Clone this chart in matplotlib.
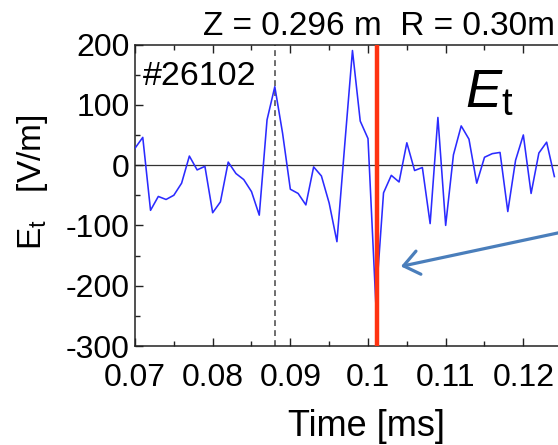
import numpy as np
import matplotlib
matplotlib.use("Agg")
import matplotlib.pyplot as plt
from matplotlib.ticker import MultipleLocator, FixedLocator, FuncFormatter

plt.rcParams['font.family'] = ['Liberation Sans', 'DejaVu Sans']
plt.rcParams['mathtext.fontset'] = 'custom'
plt.rcParams['mathtext.rm'] = 'Liberation Sans'
plt.rcParams['mathtext.it'] = 'Liberation Sans:italic'
plt.rcParams['axes.unicode_minus'] = False

# toroidal electric field, sampled every 1 us starting at 0.070 ms
t0 = 0.070
dt = 0.001
et_values = [28, 46, -75, -52, -57, -50, -30, 15, -8, -2,
             -79, -61, 5, -14, -24, -44, -83, 75, 130, 53,
             -40, -47, -66, -3, -18, -63, -127, 33, 190, 73,
             44, -228, -46, -17, -28, 37, -9, -4, -97, 79,
             -100, 17, 65, 43, -30, 13, 19, 21, -77, 8,
             50, -47, 20, 38, -19]
time = t0 + dt * np.arange(len(et_values))

event_times = [0.088, 0.101]     # dashed markers
crash_time = 0.1012              # red marker
arrow_tip = (0.10424, -168)
arrow_tail = (0.1261, -108)

xticks = [0.07, 0.08, 0.09, 0.10, 0.11, 0.12]
yticks = [-300, -200, -100, 0, 100, 200]

W, H = 558, 445
fig = plt.figure(figsize=(W / 100, H / 100), dpi=100)
ax = fig.add_axes([135 / W, 99 / H, 466 / W, 301.5 / H])

ax.axhline(0, color='#333333', lw=0.9, zorder=1)
for tx in event_times:
    ax.axvline(tx, color='#555555', lw=1.2, ls=(0, (3.5, 2.5)), zorder=2)
ax.plot(time, et_values, color='#2B2BFF', lw=1.15, zorder=3)
ax.axvline(crash_time, color='#FF3311', lw=3.2, zorder=4)

ax.set_xlim(0.07, 0.13)
ax.set_ylim(-300, 200)
ax.xaxis.set_major_locator(FixedLocator(xticks))
ax.xaxis.set_minor_locator(MultipleLocator(0.005))
ax.yaxis.set_major_locator(FixedLocator(yticks))
ax.yaxis.set_minor_locator(MultipleLocator(50))
ax.xaxis.set_major_formatter(FuncFormatter(lambda v, p: ('%.2f' % v).rstrip('0').rstrip('.')))
ax.yaxis.set_major_formatter(FuncFormatter(lambda v, p: '%d' % v))

ax.tick_params(which='both', direction='in', top=True, right=True,
               color='#222222', width=1.0)
ax.tick_params(which='major', length=6, labelsize=23)
ax.tick_params(axis='x', which='major', pad=12)
ax.tick_params(axis='y', which='major', pad=4)
ax.tick_params(which='minor', length=3.6)
for s in ax.spines.values():
    s.set_linewidth(1.1)
    s.set_color('#222222')

# axis labels placed in axes coordinates
ax.set_xlabel('Time [ms]', fontsize=26)
ax.xaxis.label.set_verticalalignment('baseline')
ax.xaxis.set_label_coords((367 - 135) / 466, (346 - 436) / 301.5)
ax.set_ylabel(r'E$_\mathrm{t}$   [V/m]', fontsize=24)
ax.yaxis.set_label_coords((50 - 135) / 466, (346 - 182.5) / 301.5)

fig.text(203 / W, 1 - 35 / H, 'Z = 0.296 m  R = 0.30m', fontsize=24,
         ha='left', va='baseline')
ax.text(0.017, 0.866, '#26102', fontsize=24.5, transform=ax.transAxes,
        ha='left', va='baseline')

# large field label: italic E with upright subscript t
fig.text(465 / W, 1 - 107 / H, r'$E_\mathrm{t}$', fontsize=39,
         ha='left', va='baseline')

ax.annotate('', xy=arrow_tip, xytext=arrow_tail, annotation_clip=False,
            arrowprops=dict(arrowstyle='->,head_length=1.1,head_width=0.85',
                            color='#4A7EBB', lw=2.3, shrinkA=0, shrinkB=0,
                            mutation_scale=10))

fig.savefig('out.png', dpi=100)
